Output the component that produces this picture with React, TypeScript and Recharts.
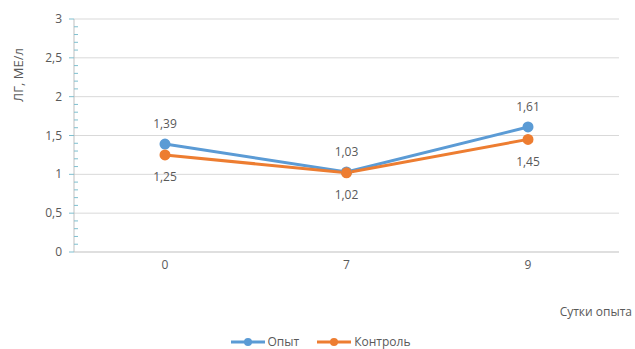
import { LineChart, Line, XAxis, YAxis, ReferenceLine, LabelList } from "recharts";

const days = ["0", "7", "9"];
const opyt = [1.39, 1.03, 1.61];
const kontrol = [1.25, 1.02, 1.45];
const majorTicks = [0.5, 1, 1.5, 2, 2.5, 3];
const allTicks = [
  0, 0.1, 0.2, 0.3, 0.4, 0.5, 0.6, 0.7, 0.8, 0.9, 1, 1.1, 1.2, 1.3, 1.4, 1.5,
  1.6, 1.7, 1.8, 1.9, 2, 2.1, 2.2, 2.3, 2.4, 2.5, 2.6, 2.7, 2.8, 2.9, 3,
];

const data = days.map((d, i) => ({ day: d, opyt: opyt[i], kontrol: kontrol[i] }));

const BLUE = "#5B9BD5";
const ORANGE = "#ED7D31";
const TEXT = "#595959";
const FONT = "'Open Sans', sans-serif";

const fmt = (v: any) => String(v).replace(".", ",");

const YTick = (props: any) => {
  const { x, y, payload } = props;
  const v = Math.round(payload.value * 10);
  const major = v % 5 === 0;
  if (!major) {
    return <line x1={x} x2={x + 4} y1={y} y2={y} stroke="#7fbfcf" strokeWidth={1} />;
  }
  return (
    <g>
      <line x1={x - 5} x2={x} y1={y} y2={y} stroke="#7fbfcf" strokeWidth={1} />
      <text x={x - 12} y={y} dy={4} textAnchor="end" fill={TEXT} fontSize={12} fontFamily={FONT}>
        {fmt(payload.value)}
      </text>
    </g>
  );
};

const LegendContent = () => (
  <div style={{ display: "flex", justifyContent: "center", gap: 18, fontFamily: FONT, fontSize: 12, color: TEXT, paddingLeft: 6 }}>
    {[
      { name: "Опыт", color: BLUE },
      { name: "Контроль", color: ORANGE },
    ].map((it) => (
      <div key={it.name} style={{ display: "flex", alignItems: "center" }}>
        <svg width={34} height={10} style={{ marginRight: 3 }}>
          <line x1={0} x2={34} y1={5} y2={5} stroke={it.color} strokeWidth={3} />
          <circle cx={17} cy={5} r={4} fill={it.color} />
        </svg>
        <span>{it.name}</span>
      </div>
    ))}
  </div>
);

const App = () => {
  return (
    <div style={{ position: "absolute", left: 0, top: 0, width: 635, height: 349, background: "#fff" }}>
      <LineChart width={635} height={349} data={data} margin={{ top: 19, right: 16, left: 0, bottom: 77 }}>
        {majorTicks.map((t) => (
          <ReferenceLine key={t} y={t} stroke="#d9d9d9" strokeWidth={1} />
        ))}
        <XAxis
          dataKey="day"
          padding={{ left: 91, right: 91 }}
          axisLine={{ stroke: "#bfbfbf" }}
          tickLine={false}
          height={20}
          tick={{ fill: TEXT, fontSize: 12, fontFamily: FONT }}
          tickMargin={2}
        />
        <YAxis
          domain={[0, 3]}
          ticks={allTicks}
          interval={0}
          width={74}
          tickSize={0}
          tickMargin={0}
          tickLine={false}
          axisLine={{ stroke: "#bfbfbf" }}
          tick={<YTick />}
        />
        <Line
          dataKey="opyt"
          stroke={BLUE}
          strokeWidth={3}
          dot={{ r: 4, fill: BLUE, stroke: BLUE }}
          isAnimationActive={false}
        >
          <LabelList dataKey="opyt" position="top" offset={16} formatter={fmt} fill={TEXT} fontSize={12} fontFamily={FONT} />
        </Line>
        <Line
          dataKey="kontrol"
          stroke={ORANGE}
          strokeWidth={3}
          dot={{ r: 4, fill: ORANGE, stroke: ORANGE }}
          isAnimationActive={false}
        >
          <LabelList dataKey="kontrol" position="bottom" offset={18} formatter={fmt} fill={TEXT} fontSize={12} fontFamily={FONT} />
        </Line>
        <text x={20} y={75} transform="rotate(-90 20 75)" textAnchor="middle" dominantBaseline="middle" fill={TEXT} fontSize={13} fontFamily={FONT}>
          ЛГ,  МЕ/л
        </text>
        <text x={632} y={316} textAnchor="end" fill={TEXT} fontSize={12} fontFamily={FONT}>
          Сутки опыта
        </text>
      </LineChart>
      <div style={{ position: "absolute", left: 0, top: 333, width: 635 }}>
        <LegendContent />
      </div>
    </div>
  );
};

export default App;
